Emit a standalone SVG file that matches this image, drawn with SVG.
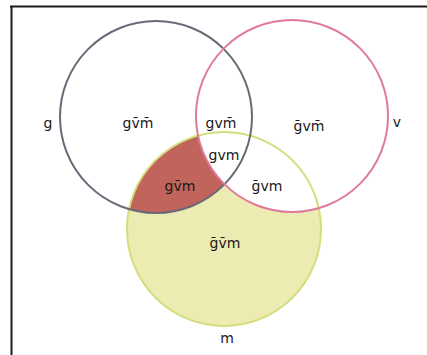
<svg xmlns="http://www.w3.org/2000/svg" width="427" height="355" viewBox="0 0 427 355">
  <style>
    .lbl { font-family: "DejaVu Sans", "Liberation Sans", sans-serif; font-size: 14px; fill: #1a1a1a; text-anchor: middle; }
    .ring { fill: none; stroke-width: 2; }
  </style>
  <defs>
    <clipPath id="clipM"><circle cx="224" cy="229" r="97"/></clipPath>
  </defs>
  <rect x="0" y="0" width="427" height="355" fill="#ffffff"/>
  <g id="frame" stroke="#1c1c1c" stroke-width="2" fill="none">
    <line x1="10" y1="6.5" x2="427" y2="6.5"/>
    <line x1="11.5" y1="6" x2="11.5" y2="355"/>
  </g>
  <g id="regions">
    <circle cx="224" cy="229" r="97" fill="#ecebb2"/>
    <g clip-path="url(#clipM)">
      <circle cx="156" cy="117" r="96" fill="#c0645c"/>
      <circle cx="292" cy="116" r="96" fill="#ffffff"/>
    </g>
  </g>
  <g id="set-m">
    <circle class="ring" cx="224" cy="229" r="97" stroke="#d3de7a"/>
  </g>
  <g id="set-g">
    <circle class="ring" cx="156" cy="117" r="96" stroke="#6a6978"/>
  </g>
  <g id="set-v">
    <circle class="ring" cx="292" cy="116" r="96" stroke="#e07a9c"/>
  </g>
  <g id="labels">
    <text class="lbl" x="48" y="128">g</text>
    <text class="lbl" x="397" y="127">v</text>
    <text class="lbl" x="227" y="343">m</text>
    <text class="lbl" x="138" y="128">gv̄m̄</text>
    <text class="lbl" x="221" y="128">gvm̄</text>
    <text class="lbl" x="309" y="131">ḡvm̄</text>
    <text class="lbl" x="224" y="160">gvm</text>
    <text class="lbl" x="180" y="191">gv̄m</text>
    <text class="lbl" x="267" y="191">ḡvm</text>
    <text class="lbl" x="225" y="248">ḡv̄m</text>
  </g>
</svg>
